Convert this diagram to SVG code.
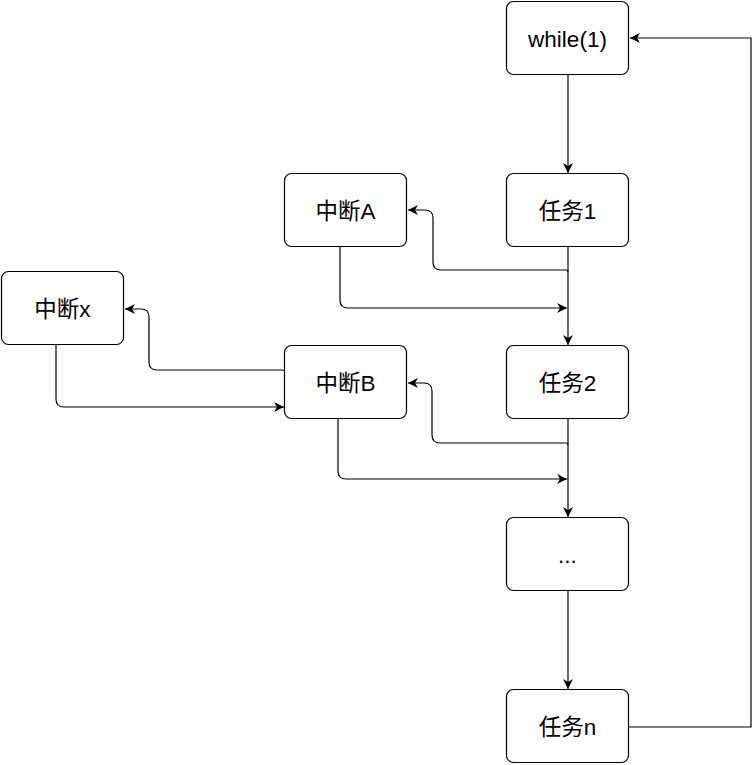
<svg xmlns="http://www.w3.org/2000/svg" width="754" height="765" viewBox="0 0 754 765">
<style>
.box{fill:#fff;stroke:#000;stroke-width:1.2}
.t{font-family:"Liberation Sans","Noto Sans CJK SC",Arial,sans-serif;font-size:22.5px;fill:#000;text-anchor:middle;dominant-baseline:central}
.c{fill:none;stroke:#000;stroke-width:1.2;marker-end:url(#ah)}
</style>
<defs>
<marker id="ah" markerWidth="12" markerHeight="10" refX="10" refY="5" orient="auto" markerUnits="userSpaceOnUse">
<path d="M0,0 L10,5 L0,10 L3,5 Z" fill="#000"/>
</marker>
</defs>
<rect width="754" height="765" fill="#fff"/>
<g id="connectors">
<path class="c" d="M568,75 V173"/>
<path class="c" d="M568,247 V345"/>
<path class="c" d="M568,419 V517"/>
<path class="c" d="M568,591 V689"/>
<path class="c" d="M629,727 H751 V38 H630"/>
<path class="c" d="M568,272 Q568,270 566,270 H441 Q433,270 433,262 V218 Q433,210 425,210 H408"/>
<path class="c" d="M340,247 V300 Q340,308 348,308 H567"/>
<path class="c" d="M568,445 Q568,443 566,443 H440 Q432,443 432,435 V391 Q432,383 424,383 H408"/>
<path class="c" d="M338,419 V471 Q338,479 346,479 H567"/>
<path class="c" d="M285,373 Q285,370 282,370 H157 Q149,370 149,362 V317 Q149,309 141,309 H125"/>
<path class="c" d="M56,345 V399 Q56,407 64,407 H284"/>
</g>
<g id="n-while"><rect class="box" x="506.5" y="1.5" width="122" height="73" rx="7"/><text class="t" x="567.5" y="39">while(1)</text></g>
<g id="n-task1"><rect class="box" x="506.5" y="173.5" width="122" height="73" rx="7"/><text class="t" x="567.5" y="211">任务1</text></g>
<g id="n-task2"><rect class="box" x="506.5" y="345.5" width="122" height="73" rx="7"/><text class="t" x="567.5" y="383">任务2</text></g>
<g id="n-dots"><rect class="box" x="506.5" y="517.5" width="122" height="73" rx="7"/><text class="t" x="567.5" y="555">...</text></g>
<g id="n-taskn"><rect class="box" x="506.5" y="689.5" width="122" height="73" rx="7"/><text class="t" x="567.5" y="727">任务n</text></g>
<g id="n-intA"><rect class="box" x="284.5" y="173.5" width="122" height="73" rx="7"/><text class="t" x="345.5" y="211">中断A</text></g>
<g id="n-intB"><rect class="box" x="284.5" y="345.5" width="122" height="73" rx="7"/><text class="t" x="345.5" y="383">中断B</text></g>
<g id="n-intx"><rect class="box" x="1.5" y="271.5" width="122" height="73" rx="7"/><text class="t" x="62.5" y="309">中断x</text></g>
</svg>
